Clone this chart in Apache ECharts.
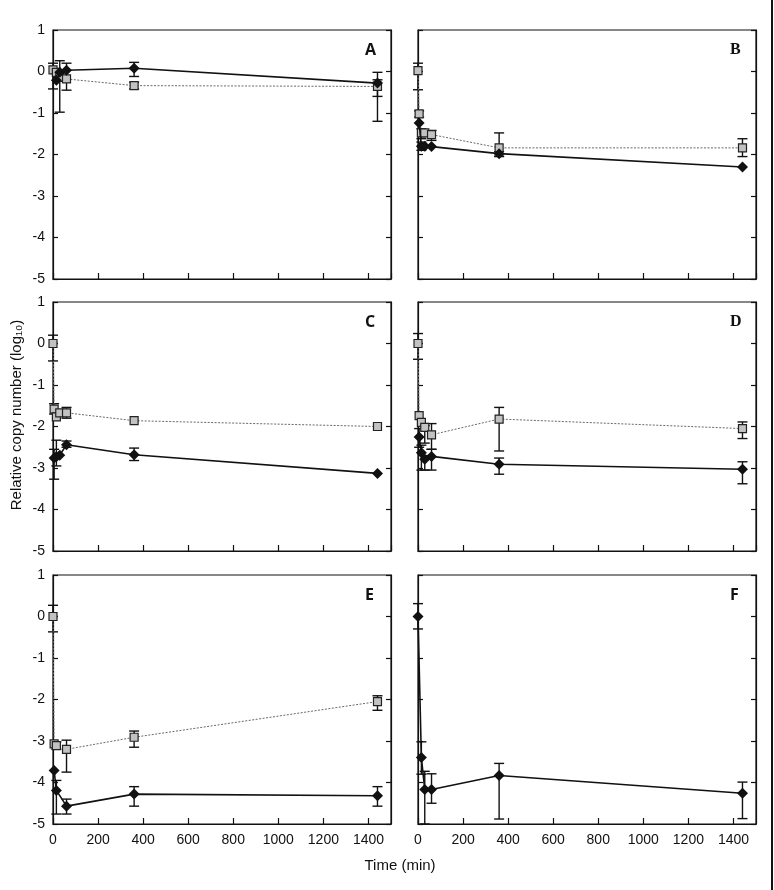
<!DOCTYPE html>
<html>
<head>
<meta charset="utf-8">
<script src="https://cdn.jsdelivr.net/npm/echarts@6/dist/echarts.min.js"></script>
<style>
  html, body { margin: 0; padding: 0; background: #fff; }
  #chart { width: 774px; height: 890px; }
</style>
</head>
<body>
<div id="chart"></div>
<script>
// sampling times (min)
const times = [0, 5, 15, 30, 60, 360, 1440]
const xTicks = [0, 200, 400, 600, 800, 1000, 1200, 1400]
const yTicks = [-5, -4, -3, -2, -1, 0, 1]

// values (log10 relative copy number), null = no point
const aGray = [0.04, null, -0.02, -0.14, -0.18, -0.34, -0.36]
const aGrayErr = [[-0.42, 0.2], null, null, [-0.98, 0.26], [-0.45, 0.2], [-0.42, -0.26], [-1.2, -0.2]]
const aBlack = [null, null, -0.21, -0.02, 0.03, 0.08, -0.28]
const aBlackErr = [null, null, null, null, null, [-0.12, 0.22], [-0.6, -0.02]]

const bGray = [0.02, -1.02, -1.48, -1.48, -1.52, -1.84, -1.84]
const bGrayErr = [[-0.44, 0.2], [-1.1, -0.95], [-1.62, -1.38], null, [-1.66, -1.42], [-2.05, -1.48], [-2.05, -1.62]]
const bBlack = [null, -1.24, -1.8, -1.8, -1.81, -1.98, -2.3]
const bBlackErr = [null, null, [-1.9, -1.7], null, null, [-2.04, -1.93], null]

const cGray = [0, -1.58, -1.77, -1.67, -1.67, -1.86, -2.0]
const cGrayErr = [[-0.42, 0.2], [-1.7, -1.45], null, null, [-1.8, -1.54], null, null]
const cBlack = [null, -2.76, -2.73, -2.69, -2.44, -2.68, -3.13]
const cBlackErr = [null, [-3.27, -2.55], [-2.95, -2.33], null, [-2.5, -2.35], [-2.82, -2.52], null]

const dGray = [0, -1.74, -1.9, -2.02, -2.2, -1.82, -2.05]
const dGrayErr = [[-0.38, 0.24], null, null, [-2.4, -1.98], [-2.55, -1.93], [-2.59, -1.54], [-2.29, -1.89]]
const dBlack = [null, -2.25, -2.63, -2.79, -2.72, -2.91, -3.03]
const dBlackErr = [null, [-2.5, -2.05], [-3.05, -2.45], [-3.05, -2.7], [-3.05, -2.55], [-3.15, -2.76], [-3.38, -2.85]]

const eGray = [0, -3.07, -3.11, null, -3.2, -2.91, -2.05]
const eGrayErr = [[-0.37, 0.27], null, [-3.2, -3.02], null, [-3.75, -2.98], [-3.15, -2.76], [-2.26, -1.91]]
const eBlack = [null, -3.71, -4.19, null, -4.57, -4.28, -4.32]
const eBlackErr = [null, null, [-4.76, -3.95], null, [-4.76, -4.4], [-4.57, -4.1], [-4.57, -4.1]]

const fGray = [null, null, null, null, null, null, null]
const fGrayErr = [null, null, null, null, null, null, null]
const fBlack = [0, null, -3.4, -4.17, -4.17, -3.83, -4.26]
const fBlackErr = [[-0.3, 0.31], null, [-3.8, -3.02], [-5.0, -3.73], [-4.5, -3.79], [-4.88, -3.54], [-4.87, -3.99]]

const panelNames = ['A', 'B', 'C', 'D', 'E', 'F']
const panelData = [
  [aGray, aGrayErr, aBlack, aBlackErr],
  [bGray, bGrayErr, bBlack, bBlackErr],
  [cGray, cGrayErr, cBlack, cBlackErr],
  [dGray, dGrayErr, dBlack, dBlackErr],
  [eGray, eGrayErr, eBlack, eBlackErr],
  [fGray, fGrayErr, fBlack, fBlackErr],
]

// layout
const colLeft = [53, 418]
const rowTop = [30, 302, 575]
const plotW = 338
const plotH = 249
const font = "'Liberation Sans Narrow', 'Liberation Sans', Arial, sans-serif"

const chart = echarts.init(document.getElementById('chart'))

function points(vals) {
  const out = []
  vals.forEach((v, i) => { if (v !== null) out.push([times[i], v]) })
  return out
}

function errs(list) {
  const out = []
  list.forEach((e, i) => { if (e) out.push([times[i], e[0], e[1]]) })
  return out
}

function errRender(params, api) {
  const x = api.value(0)
  const top = api.coord([x, api.value(2)])
  const bot = api.coord([x, api.value(1)])
  const w = 5
  const st = { stroke: '#111', lineWidth: 1.4 }
  return {
    type: 'group',
    children: [
      { type: 'line', shape: { x1: top[0], y1: top[1], x2: bot[0], y2: bot[1] }, style: st },
      { type: 'line', shape: { x1: top[0] - w, y1: top[1], x2: top[0] + w, y2: top[1] }, style: st },
      { type: 'line', shape: { x1: bot[0] - w, y1: bot[1], x2: bot[0] + w, y2: bot[1] }, style: st },
    ],
  }
}

const grid = []
const xAxis = []
const yAxis = []
const series = []
const graphic = []

panelNames.forEach((name, i) => {
  const col = i % 2
  const row = Math.floor(i / 2)
  const left = colLeft[col]
  const top = rowTop[row]
  grid.push({ left, top, width: plotW, height: plotH, show: true, borderColor: '#111', borderWidth: 1.2, backgroundColor: 'transparent' })

  xAxis.push({
    type: 'value', gridIndex: i, position: 'bottom', min: 0, max: 1500, interval: 200,
    axisLine: { show: true, onZero: false, lineStyle: { color: '#111', width: 1.2 } },
    axisTick: { show: true, inside: true, length: 6, lineStyle: { color: '#111', width: 1.2 } },
    axisLabel: {
      show: row === 2, showMaxLabel: false, margin: 9, color: '#111', fontSize: 14, fontFamily: font,
      formatter: v => xTicks.includes(v) ? String(v) : '',
    },
    splitLine: { show: false },
  })

  const yBase = {
    type: 'value', gridIndex: i, min: -5, max: 1, interval: 1,
    axisLine: { show: true, onZero: false, lineStyle: { color: '#111', width: 1.2 } },
    axisTick: { show: true, inside: true, length: 5, lineStyle: { color: '#111', width: 1.2 } },
    splitLine: { show: false },
  }
  yAxis.push(Object.assign({}, yBase, {
    position: 'left',
    axisLabel: { show: col === 0, margin: 8, color: '#111', fontSize: 14, fontFamily: font, formatter: v => yTicks.includes(v) ? String(v) : '' },
  }))
  yAxis.push(Object.assign({}, yBase, { position: 'right', axisLabel: { show: false } }))

  const [gray, grayErr, black, blackErr] = panelData[i]

  series.push({
    type: 'custom', xAxisIndex: i, yAxisIndex: 2 * i, renderItem: errRender,
    encode: { x: 0, y: [1, 2] }, data: errs(grayErr), silent: true, z: 2,
  })
  series.push({
    type: 'custom', xAxisIndex: i, yAxisIndex: 2 * i, renderItem: errRender,
    encode: { x: 0, y: [1, 2] }, data: errs(blackErr), silent: true, z: 2,
  })
  series.push({
    type: 'line', xAxisIndex: i, yAxisIndex: 2 * i, data: points(gray),
    symbol: 'rect', symbolSize: 8, showAllSymbol: true, animation: false, z: 3,
    lineStyle: { color: '#6a6a6a', width: 1, type: [2, 1.5] },
    itemStyle: { color: '#c2c2c2', borderColor: '#222', borderWidth: 1.2 },
  })
  series.push({
    type: 'line', xAxisIndex: i, yAxisIndex: 2 * i, data: points(black),
    symbol: 'diamond', symbolSize: 11, showAllSymbol: true, animation: false, z: 4,
    lineStyle: { color: '#111', width: 1.6 },
    itemStyle: { color: '#111' },
  })

  graphic.push({
    type: 'text', left: left + plotW - 26, top: top + 12,
    style: {
      text: name, fill: '#111', fontSize: 16, fontWeight: 'bold',
      fontFamily: (name === 'B' || name === 'D') ? "'Liberation Serif', serif" : "'Open Sans', 'Liberation Sans', sans-serif",
    },
  })
})

graphic.push({
  type: 'text', x: 17, y: 415, rotation: Math.PI / 2,
  style: { text: 'Relative copy number (log₁₀)', fill: '#111', fontSize: 15, fontFamily: "'Liberation Sans', Arial, sans-serif", textAlign: 'center', textVerticalAlign: 'middle' },
})
graphic.push({
  type: 'text', x: 400, y: 866,
  style: { text: 'Time (min)', fill: '#111', fontSize: 15, fontFamily: "'Liberation Sans', Arial, sans-serif", textAlign: 'center', textVerticalAlign: 'middle' },
})
graphic.push({
  type: 'rect', shape: { x: 771, y: 0, width: 2, height: 890 }, style: { fill: '#111' },
})

chart.setOption({
  animation: false,
  backgroundColor: '#fff',
  grid, xAxis, yAxis, series, graphic,
})
</script>
</body>
</html>
